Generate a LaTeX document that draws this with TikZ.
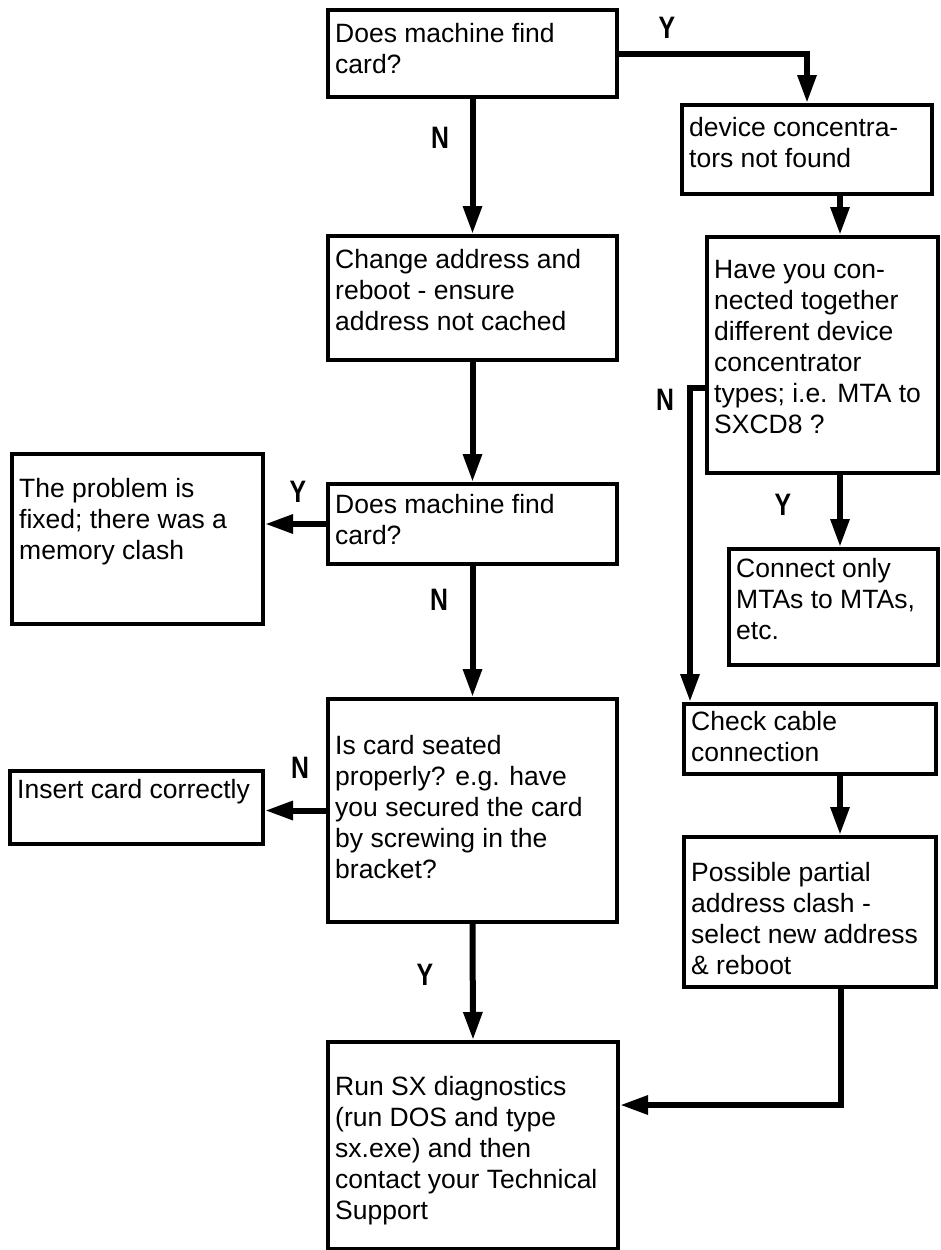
\documentclass[tikz,border=0pt]{standalone}
\usepackage{fontspec}
\setmainfont{Liberation Sans}
\newfontfamily\lblfont[FakeStretch=0.8]{Liberation Sans}
\usetikzlibrary{arrows.meta,calc}
\tikzset{
  box/.style={draw=black, line width=4pt, fill=white, inner sep=0pt, rectangle},
  txt/.style={inner sep=0pt, align=left, font=\fontsize{26.5}{31}\selectfont},
  conn/.style={line width=6pt, -{Triangle[length=28pt,width=18pt]}},
  lbl/.style={inner sep=0pt, font=\lblfont\bfseries\fontsize{31}{34}\selectfont},
}
\newcommand\flowbox[7]{%
  \node[box, anchor=north west, minimum width={(#4-#2)*1pt}, minimum height={(#5-#3)*1pt}] (#1) at (#2,#3) {};
  \node[txt, anchor=north west] (#1t) at ({#2+9},{#6-9.5}) {#7};
}
\begin{document}
\begin{tikzpicture}[x=1pt,y=-1pt]
\useasboundingbox (0,0) rectangle (941,1250);
% boxes
\flowbox{b1}{326}{8}{615}{95}{33}{Does machine find\\card?}
\flowbox{b2}{680}{103}{930}{192}{127}{device concentra-\\tors not found}
\flowbox{b4}{326}{234}{615}{358}{259}{Change address and\\reboot - ensure\\address not cached}
\flowbox{b3}{705}{235}{936}{471}{270}{Have you con-\\nected together\\different device\\concentrator\\types; i.e. MTA to\\SXCD8 ?}
\flowbox{b5}{326}{482}{615}{562}{504}{Does machine find\\card?}
\flowbox{b6}{10}{452}{261}{622}{488}{The problem is\\fixed; there was a\\memory clash}
\flowbox{b7}{727}{547}{936}{663}{568}{Connect only\\MTAs to MTAs,\\etc.}
\flowbox{b8}{682}{702}{934}{772}{721}{Check cable\\connection}
\flowbox{b9}{682}{835}{934}{985}{872}{Possible partial\\address clash -\\select new address\\\& reboot}
\flowbox{b10}{326}{697}{615}{920}{745}{Is card seated\\properly? e.g. have\\you secured the card\\by screwing in the\\bracket?}
\flowbox{b11}{8}{769}{261}{842}{789}{Insert card correctly}
\flowbox{b12}{326}{1040}{616}{1247}{1086}{Run SX diagnostics\\(run DOS and type\\sx.exe) and then\\contact your Technical\\Support}
% helper coordinates
\coordinate (colR) at (840,0);
\coordinate (nTurn) at (690,388);
\coordinate (j1) at (841,1105);
% connectors
\draw[conn] (b1.east) -| (b2.north);
\draw[conn] (b1.south) -- (b4.north);
\draw[conn] (b2.south -| colR) -- (b3.north -| colR);
\draw[conn] (b4.south) -- (b5.north);
\draw[conn] (b5.west) -- (b6.east |- b5.west);
\draw[conn] (b5.south) -- (b10.north);
\draw[conn] (b10.west) -- (b11.east |- b10.west);
\draw[conn] (b10.south) -- (b12.north);
\draw[conn] (b3.south -| colR) -- (b7.north -| colR);
\draw[conn] (b3.west |- nTurn) -- (nTurn) -- (b8.north -| nTurn);
\draw[conn] (b8.south -| colR) -- (b9.north -| colR);
\draw[conn] (b9.south -| j1) -- (j1) -- (b12.east |- j1);
% labels
\node[lbl] (l1) at (667,28) {Y};
\node[lbl] (l2) at (440,138) {N};
\node[lbl] (l3) at (298,492) {Y};
\node[lbl] (l4) at (439,600) {N};
\node[lbl] (l5) at (300,768) {N};
\node[lbl] (l6) at (425,975) {Y};
\node[lbl] (l7) at (665,400) {N};
\node[lbl] (l8) at (783,505) {Y};
\end{tikzpicture}
\end{document}
